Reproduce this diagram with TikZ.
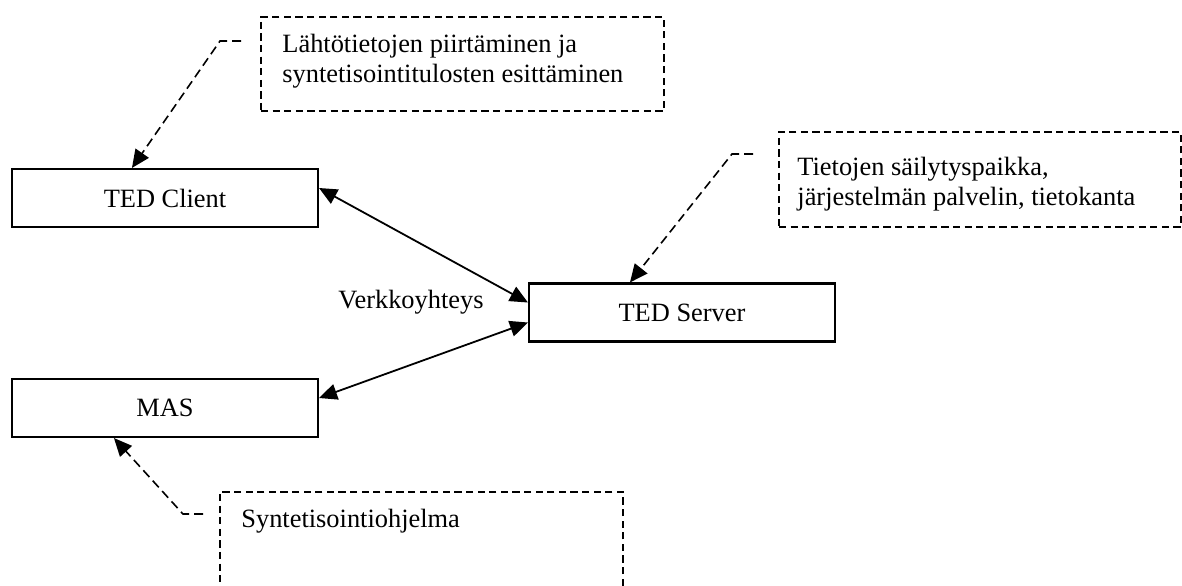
\documentclass[tikz,border=0pt]{standalone}
\usepackage{fontspec}
\setmainfont{Liberation Serif}
\usetikzlibrary{arrows.meta,calc}
\begin{document}
\begin{tikzpicture}[x=0.5pt,y=-0.5pt,
  every node/.style={font=\fontsize{13.2pt}{15pt}\selectfont},
  unit/.style={draw, line width=1.05pt, minimum width=153pt, minimum height=29pt, inner sep=0pt},
  callout/.style={draw, line width=0.95pt, dash pattern=on 3.6pt off 2.2pt, inner sep=0pt, anchor=north west},
  note/.style={inner sep=0pt, align=left, anchor=base west},
  tip/.style={Triangle[length=9pt,width=8pt]},
  leader/.style={line width=0.8pt, dash pattern=on 4.5pt off 2.5pt, -{Triangle[length=9pt,width=8pt]}},
  link/.style={line width=0.9pt, {Triangle[length=9pt,width=8pt]}-{Triangle[length=9pt,width=8pt]}}]
\useasboundingbox (0,0) rectangle (1182,585);

% system units
\node[unit] (client) at (165,198) {TED Client};
\node[unit] (server) at (682,312.5) {TED Server};
\node[unit] (mas) at (165,408) {MAS};

% network connections
\draw[link] ([yshift=5pt]client.east) -- ([yshift=5pt]server.west);
\draw[link] ([yshift=5pt]mas.east) -- ([yshift=-5pt]server.west);
\node[inner sep=0pt, anchor=base] (net) at (411,308) {Verkkoyhteys};

% description boxes (base anchor sits on the last line)
\node[callout, minimum width=201.5pt, minimum height=47pt] (c1) at (260,16) {};
\node[note] (t1) at (282,82) {Lähtötietojen piirtäminen ja\\syntetisointitulosten esittäminen};
\node[callout, minimum width=201pt, minimum height=47.5pt] (c2) at (778,131) {};
\node[note] (t2) at (797,205) {Tietojen säilytyspaikka,\\järjestelmän palvelin, tietokanta};
\begin{scope}
  \clip (0,0) rectangle (1182,585);
  \node[callout, minimum width=201.5pt, minimum height=60pt] (c3) at (219,491) {};
\end{scope}
\node[note] (t3) at (241,527) {Syntetisointiohjelma};

% leaders from descriptions to units
\coordinate (k1) at (241,41);
\coordinate (b1) at (220,41);
\draw[leader] (k1) -- (b1) -- ([xshift=60.5pt]client.north west);
\coordinate (k2) at (753,154);
\coordinate (b2) at (732,154);
\draw[leader] (k2) -- (b2) -- ([xshift=51pt]server.north west);
\coordinate (k3) at (203,514);
\coordinate (b3) at (183,514);
\draw[leader] (k3) -- (b3) -- ([xshift=51.5pt]mas.south west);
\end{tikzpicture}
\end{document}
